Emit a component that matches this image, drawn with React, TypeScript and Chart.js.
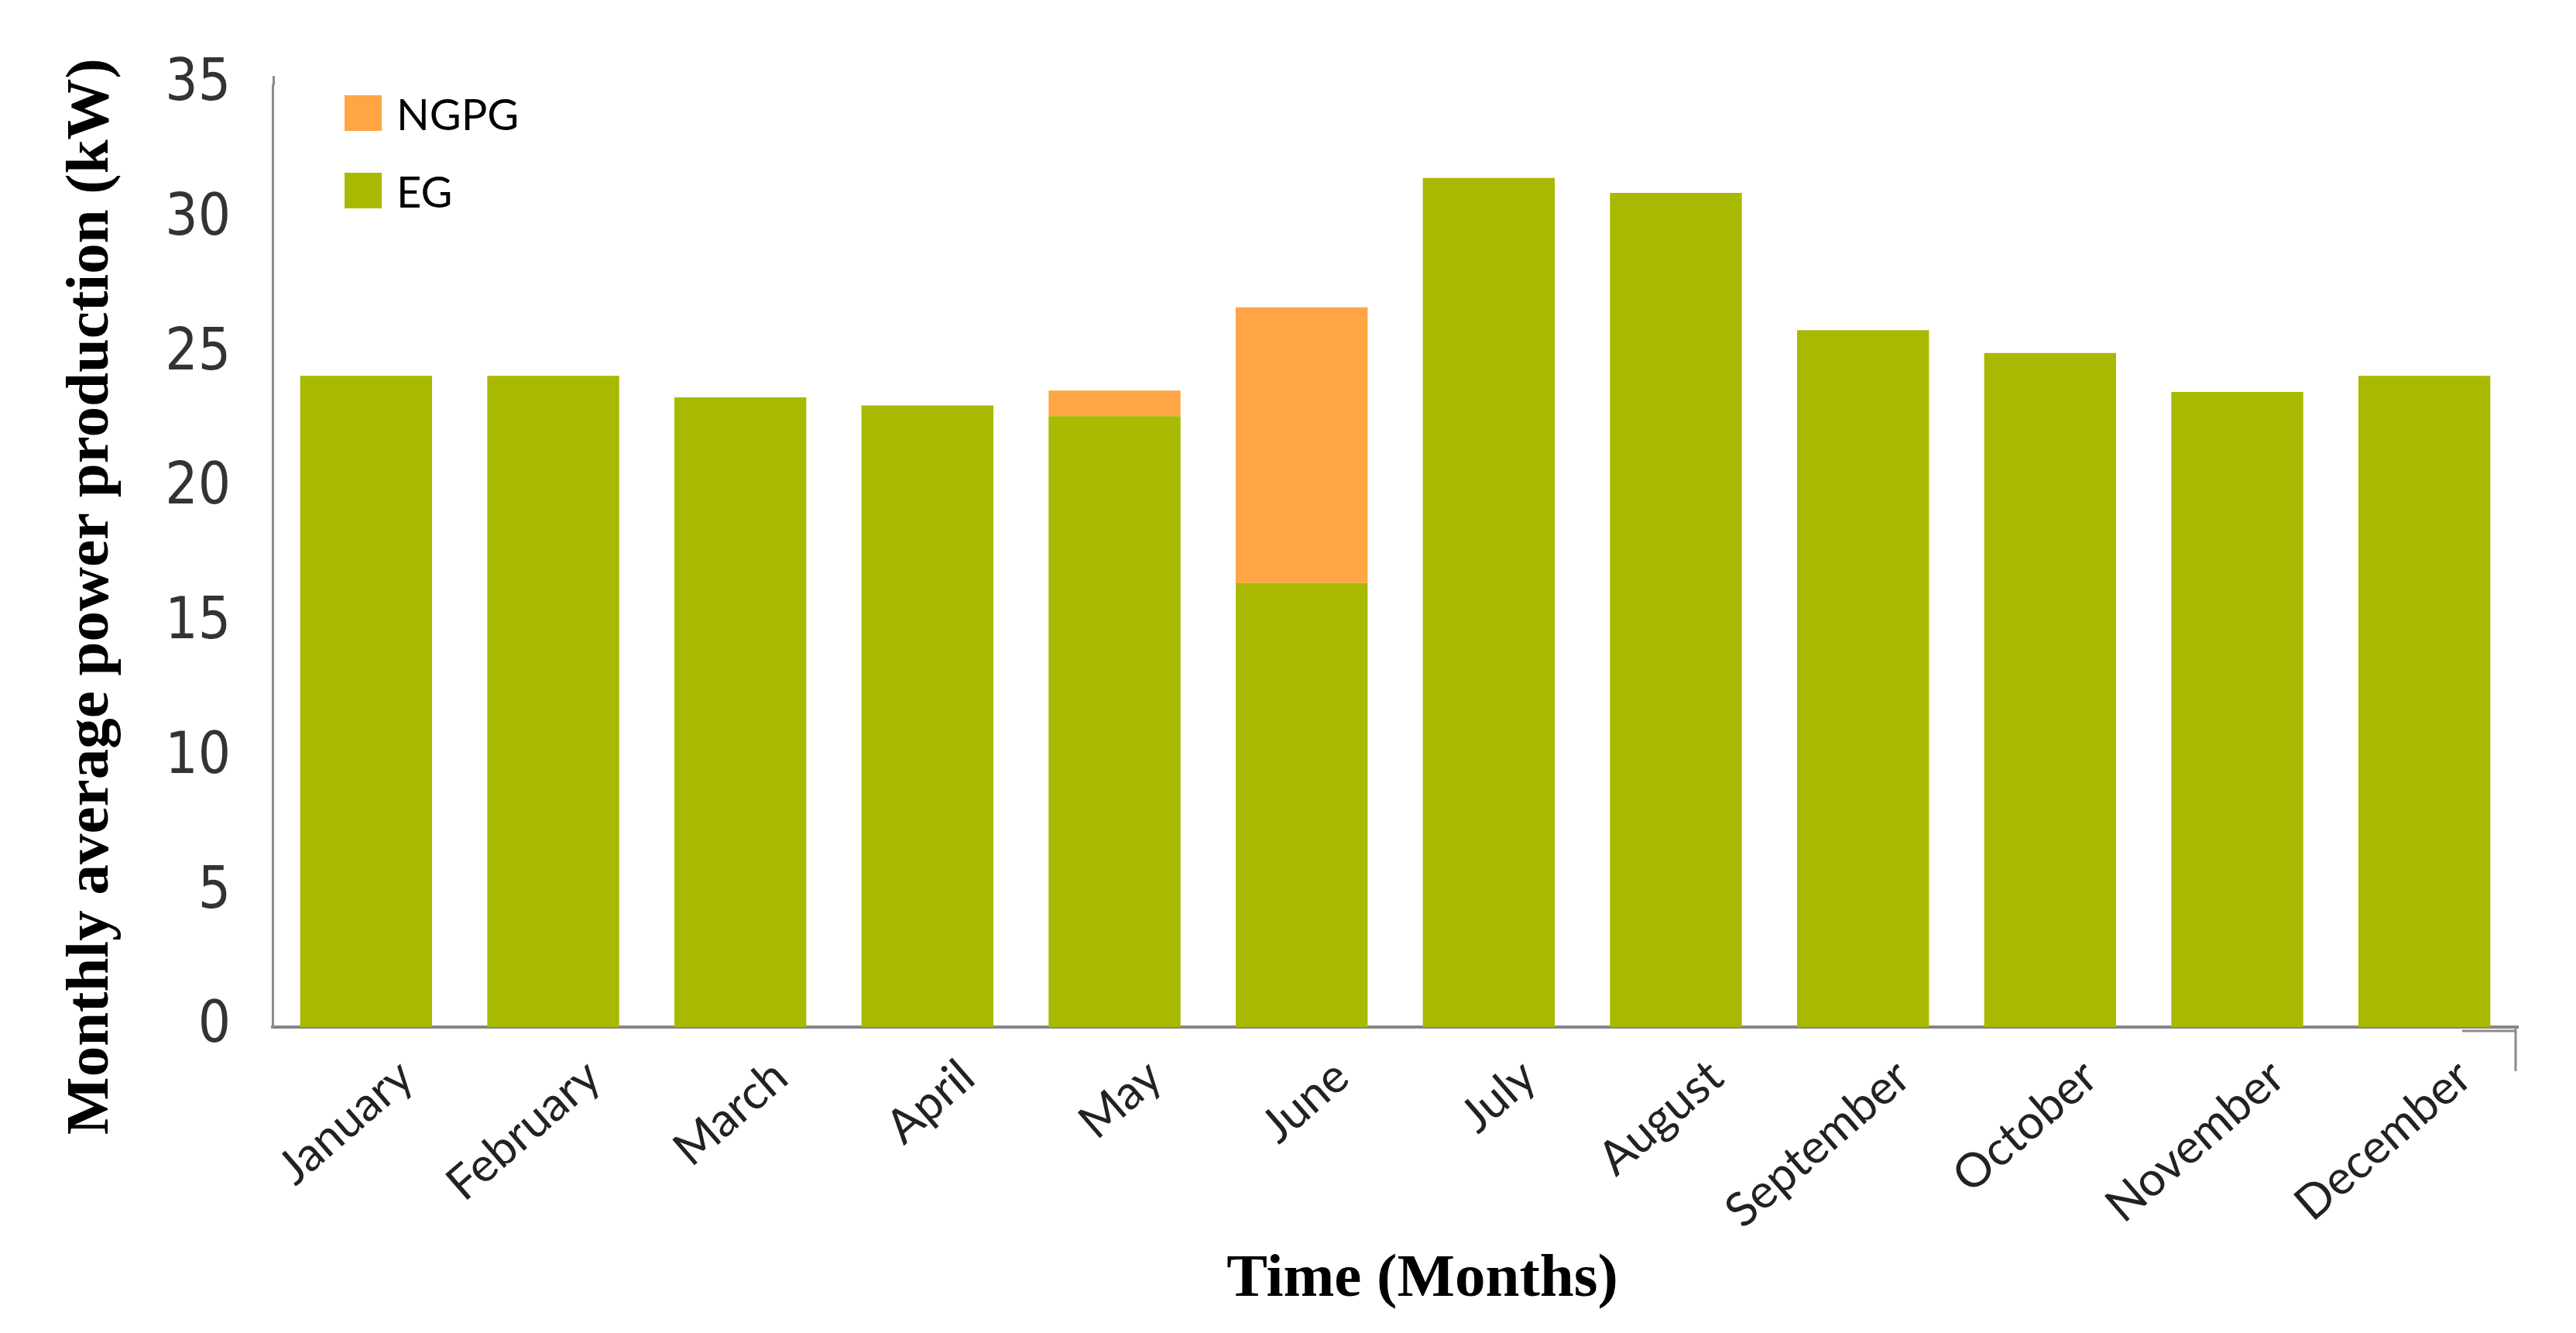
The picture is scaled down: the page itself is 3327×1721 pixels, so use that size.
import React, { useEffect, useRef } from "react";
import { Chart, registerables } from "chart.js";

Chart.register(...registerables);

const months = [
  "January", "February", "March", "April", "May", "June",
  "July", "August", "September", "October", "November", "December",
];
const egValues = [24.2, 24.2, 23.4, 23.1, 22.7, 16.5, 31.55, 31.0, 25.9, 25.05, 23.6, 24.2];
const ngpgValues = [0, 0, 0, 0, 0.95, 10.25, 0, 0, 0, 0, 0, 0];
const yTickStep = 5;
const yMin = 0;
const yMax = 35;
const seriesNames = { eg: "EG", ngpg: "NGPG" };
const yTitle = "Monthly average power production (kW)";
const xTitle = "Time (Months)";

const EG_COLOR = "#A9B800";
const NGPG_COLOR = "#FFA543";
const AXIS_COLOR = "#8a8a8a";

export default function App() {
  const ref = useRef<HTMLCanvasElement>(null);

  useEffect(() => {
    const canvas = ref.current;
    if (!canvas) return;

    const overlay = {
      id: "overlay",
      afterDraw(chart: any) {
        const ctx = chart.ctx as CanvasRenderingContext2D;
        const { left, top, right, bottom } = chart.chartArea;
        ctx.save();
        // axis extensions
        ctx.strokeStyle = AXIS_COLOR;
        ctx.lineWidth = 3;
        ctx.beginPath();
        ctx.moveTo(left + 1.5, top - 12);
        ctx.lineTo(left + 1.5, top);
        ctx.stroke();
        ctx.beginPath();
        ctx.moveTo(right - 72, bottom + 5);
        ctx.lineTo(right - 3, bottom + 5);
        ctx.moveTo(right - 3, bottom);
        ctx.lineTo(right - 3, bottom + 57);
        ctx.stroke();

        // axis titles
        ctx.fillStyle = "#000";
        ctx.font = 'bold 79px "Liberation Serif", serif';
        ctx.textAlign = "center";
        ctx.textBaseline = "middle";
        ctx.fillText(xTitle, 1837, 1653);
        ctx.save();
        ctx.translate(119, 770);
        ctx.rotate(-Math.PI / 2);
        ctx.fillText(yTitle, 0, 0);
        ctx.restore();

        // legend (NGPG on top, EG below)
        const items = [...chart.data.datasets].reverse();
        ctx.font = '56px Lato, "Open Sans", sans-serif';
        ctx.textAlign = "left";
        ctx.textBaseline = "alphabetic";
        items.forEach((ds: any, i: number) => {
          const by = 123 + i * 100;
          ctx.fillStyle = ds.backgroundColor;
          ctx.fillRect(445, by, 48, 46);
          ctx.fillStyle = "#000";
          ctx.fillText(ds.label, 512, by + 45);
        });
        ctx.restore();
      },
    };

    const chart = new Chart(canvas, {
      type: "bar",
      data: {
        labels: months,
        datasets: [
          {
            label: seriesNames.eg,
            data: egValues,
            backgroundColor: EG_COLOR,
            borderWidth: 0,
            categoryPercentage: 1,
            barPercentage: 0.705,
          },
          {
            label: seriesNames.ngpg,
            data: ngpgValues,
            backgroundColor: NGPG_COLOR,
            borderWidth: 0,
            categoryPercentage: 1,
            barPercentage: 0.705,
          },
        ],
      },
      options: {
        animation: false,
        responsive: false,
        devicePixelRatio: 1,
        layout: { padding: { top: 110, right: 75, left: 0, bottom: 0 } },
        plugins: {
          legend: { display: false },
          tooltip: { enabled: false },
          title: { display: false },
        },
        scales: {
          x: {
            stacked: true,
            grid: { display: false, drawTicks: false },
            border: { display: true, color: "#858585", width: 4 },
            ticks: {
              color: "#222",
              font: { family: 'Lato, "Open Sans", sans-serif', size: 61 },
              maxRotation: 41,
              minRotation: 41,
              padding: 28,
              labelOffset: 52,
              autoSkip: false,
            },
            afterFit(scale: any) {
              scale.height = 395;
            },
          },
          y: {
            stacked: true,
            min: yMin,
            max: yMax,
            grid: { display: false, drawTicks: false },
            border: { display: true, color: AXIS_COLOR, width: 3 },
            ticks: {
              stepSize: yTickStep,
              color: "#333",
              padding: 54,
              font: { family: '"Liberation Sans Narrow", "DejaVu Sans Condensed", sans-serif', size: 74 },
            },
            afterFit(scale: any) {
              scale.width = 352;
            },
          },
        },
      },
      plugins: [overlay],
    });

    return () => chart.destroy();
  }, []);

  return (
    <div style={{ position: "fixed", left: 0, top: 0, width: 3327, height: 1721, background: "#fff" }}>
      <canvas ref={ref} width={3327} height={1721} style={{ width: 3327, height: 1721, display: "block" }} />
    </div>
  );
}
